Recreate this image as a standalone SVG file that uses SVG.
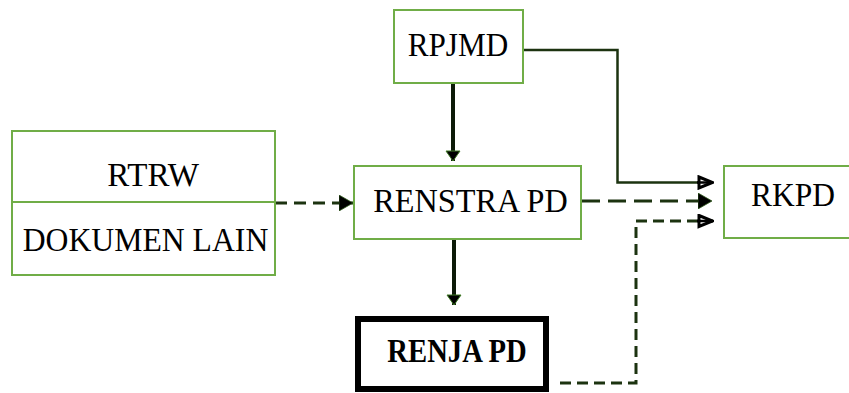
<svg xmlns="http://www.w3.org/2000/svg" width="849" height="393" viewBox="0 0 849 393">
<style>
.box{fill:#fff;stroke:#70AD47;stroke-width:2}
.t{font-family:"Liberation Serif","Times New Roman",serif;font-size:33px;fill:#000}
.b{font-weight:bold;font-size:33px}
.solid{fill:none;stroke:#1c3310;stroke-width:2.5}
.thick{fill:none;stroke:#0d1a08;stroke-width:4}
.dash{fill:none;stroke:#1c3310;stroke-width:3;stroke-dasharray:12 7}
.dash2{fill:none;stroke:#1c3310;stroke-width:3;stroke-dasharray:18 8}
.vdash{fill:none;stroke:#1c3310;stroke-width:3;stroke-dasharray:11 6}
</style>
<defs>
<marker id="fill" viewBox="0 0 14 16" refX="14" refY="8" markerWidth="14" markerHeight="16" markerUnits="userSpaceOnUse" orient="auto">
<path d="M0,0 L14,8 L0,16 Z" fill="#000" stroke="#2f5a1a" stroke-width="0.8"/>
</marker>
<marker id="open" viewBox="0 0 17 15" refX="16" refY="7.5" markerWidth="17" markerHeight="15" markerUnits="userSpaceOnUse" orient="auto">
<path d="M2,2 L15.5,7.5 L2,13 Z" fill="#fff" stroke="#000" stroke-width="3"/>
<path d="M0,7.5 L15,7.5" stroke="#000" stroke-width="2.5"/>
</marker>
<marker id="down" viewBox="0 0 16 12" refX="8" refY="11" markerWidth="16" markerHeight="12" markerUnits="userSpaceOnUse" orient="0">
<path d="M1,1 L15,1 L8,11 Z" fill="#000" stroke="#3f7a25" stroke-width="1"/>
</marker>
</defs>
<g id="connectors">
<path class="thick" d="M453,84 L453,161" marker-end="url(#down)"/>
<path class="thick" d="M454,240 L454,305" marker-end="url(#down)"/>
<path class="solid" d="M523,50 L617.5,50 L617.5,182.5 L713,182.5" marker-end="url(#open)"/>
<path class="dash" d="M275,203 L353,203" marker-end="url(#fill)"/>
<path class="dash2" d="M582,201 L712,201" marker-end="url(#fill)"/>
<path class="vdash" d="M560,383 L636,383 L636,221 L713,221" marker-end="url(#open)"/>
</g>
<g id="rpjmd">
<rect class="box" x="394" y="10" width="129" height="73"/>
<text class="t" x="407.7" y="56" textLength="100.6" lengthAdjust="spacingAndGlyphs">RPJMD</text>
</g>
<g id="rtrw">
<rect class="box" x="12" y="131" width="263" height="144"/>
<line x1="12" y1="202" x2="275" y2="202" stroke="#70AD47" stroke-width="2"/>
<text class="t" x="107.3" y="185.7" textLength="91.7" lengthAdjust="spacingAndGlyphs">RTRW</text>
<text class="t" x="22.7" y="250.7" textLength="245.6" lengthAdjust="spacingAndGlyphs">DOKUMEN LAIN</text>
</g>
<g id="renstra">
<rect class="box" x="354" y="166" width="227" height="73"/>
<text class="t" x="373.3" y="211.7" textLength="194.4" lengthAdjust="spacingAndGlyphs">RENSTRA PD</text>
</g>
<g id="rkpd">
<rect class="box" x="724" y="166" width="140" height="72"/>
<text class="t" x="751" y="206" textLength="84" lengthAdjust="spacingAndGlyphs">RKPD</text>
</g>
<g id="renja">
<rect x="358" y="319" width="188" height="70" fill="#fff" stroke="#000" stroke-width="6"/>
<text class="t b" x="387.3" y="361.7" textLength="139.4" lengthAdjust="spacingAndGlyphs">RENJA PD</text>
</g>
</svg>
